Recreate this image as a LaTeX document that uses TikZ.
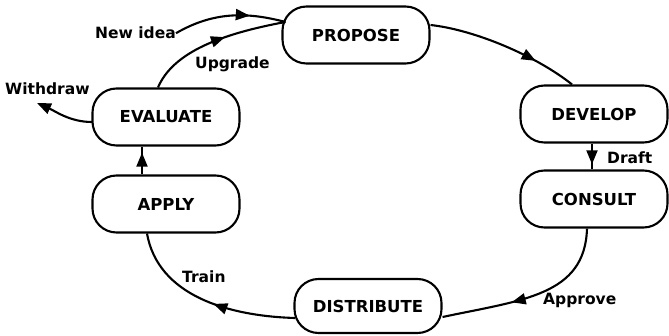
\documentclass[tikz,border=0pt]{standalone}
\usepackage{fontspec}
\setmainfont{DejaVu Sans}
\usetikzlibrary{arrows.meta,decorations.markings,calc}

\begin{document}
\begin{tikzpicture}[x=1pt,y=-1pt,
  stage/.style={draw,line width=2.1pt,rounded corners=24pt,
    minimum width=147pt,minimum height=57pt,inner sep=0pt,
    font=\fontsize{16.5}{18}\selectfont\bfseries},
  lbl/.style={inner sep=0pt,font=\fontsize{15.5}{17}\selectfont\bfseries},
  flow/.style={line width=2.1pt},
  tip/.style={-{Triangle[length=14pt,width=11pt]}},
  midarrow/.style={postaction={decorate},
    decoration={markings,mark=at position #1 with {\arrow{Triangle[length=14pt,width=11pt]}}}}
]
\useasboundingbox (0,0) rectangle (669,336);

% stages of the cycle
\node[stage] (P) at (356,35)  {PROPOSE};
\node[stage] (D) at (594,114) {DEVELOP};
\node[stage] (C) at (594,199) {CONSULT};
\node[stage,minimum height=54pt] (S) at (368,306) {DISTRIBUTE};
\node[stage] (A) at (166,204) {APPLY};
\node[stage] (E) at (166,117) {EVALUATE};

% transition labels
\node[lbl,anchor=base west] (N)  at (95,39)   {New idea};
\node[lbl,anchor=base west] (U)  at (195,69)  {Upgrade};
\node[lbl,anchor=base west] (W)  at (5,95)    {Withdraw};
\node[lbl,anchor=base west] (Dr) at (607,164) {Draft};
\node[lbl,anchor=base west] (Ap) at (543,305) {Approve};
\node[lbl,anchor=base west] (Tr) at (182,283) {Train};

% entry point on the left of PROPOSE and exit point of withdrawal
\coordinate (Pin) at ($(P.west)+(4,-13)$);
\coordinate (Wout) at (37,103);

% connectors
\draw[flow,midarrow=0.68] (N.east) .. controls +(38,-22) and +(-38,-10) .. (Pin);
\draw[flow,midarrow=0.58] ($(E.north)+(-8,0)$) .. controls +(15,-35) and +(-65,12) .. (Pin);
\draw[flow,midarrow=0.72] ($(P.east)+(0,-10)$) .. controls +(45,5) and +(-35,-28) .. ($(D.north)+(-22,0)$);
\draw[flow,midarrow=0.8] ($(D.south)+(-2,0)$) -- ($(C.north)+(-2,0)$);
\draw[flow,midarrow=0.62] ($(C.south)+(-7,0)$) .. controls +(-2,67) and +(80,-17) .. ($(S.east)+(0,11)$);
\draw[flow,midarrow=0.45] ($(S.west)+(1.5,12)$) .. controls +(-67,-2) and +(11,62) .. ($(A.south)+(-19,0)$);
\draw[flow,midarrow=0.78] ($(A.north)+(-24,0)$) -- ($(E.south)+(-24,0)$);
\draw[flow,tip] ($(E.west)+(0.5,5)$) .. controls +(-22,0) and +(18,8) .. (Wout);
\end{tikzpicture}
\end{document}
